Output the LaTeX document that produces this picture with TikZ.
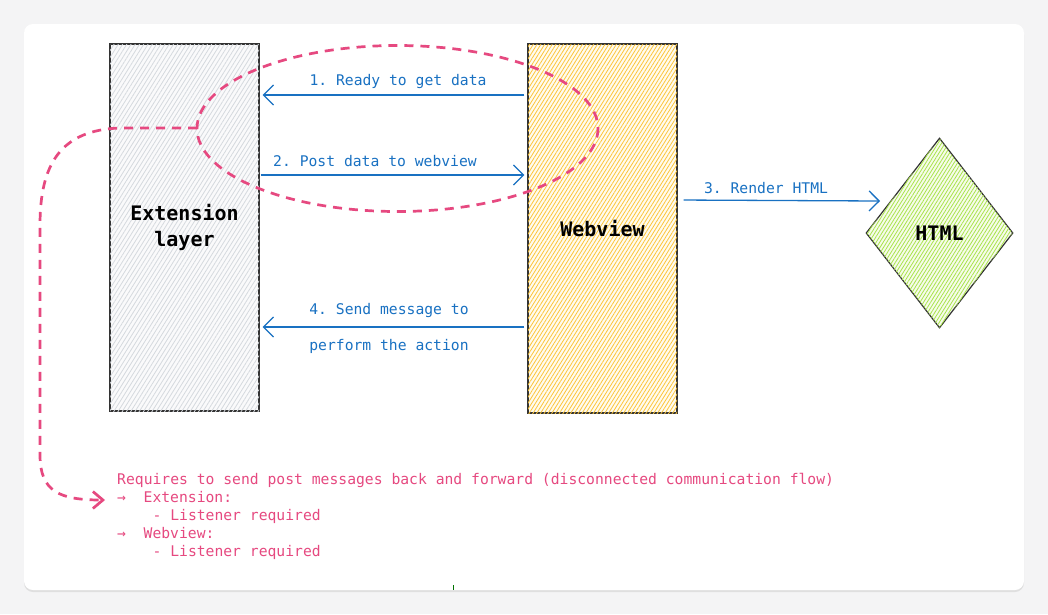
\documentclass[tikz,border=0pt]{standalone}
\usepackage{fontspec}
\setmonofont{DejaVu Sans Mono}
\usetikzlibrary{patterns.meta, arrows.meta, shapes.geometric, shadows}
\definecolor{bgc}{HTML}{F4F4F5}
\definecolor{exfill}{HTML}{FAFAFB}
\definecolor{exline}{HTML}{D5D9DE}
\definecolor{webline}{HTML}{FCC53A}
\definecolor{webfill}{HTML}{FFFBEF}
\definecolor{htmlline}{HTML}{A9E34B}
\definecolor{htmlfill}{HTML}{F6FCEA}
\definecolor{ablue}{HTML}{1971C2}
\definecolor{apink}{HTML}{E64980}
\tikzset{
  boxbase/.style={draw=black!80, line width=1.2pt, inner sep=0pt, font=\ttfamily\bfseries\fontsize{20}{26}\selectfont, align=center},
  extbox/.style={boxbase, fill=exfill, postaction={pattern={Lines[angle=58,distance=3.6pt,line width=0.8pt]}, pattern color=exline}},
  webbox/.style={boxbase, fill=webfill, postaction={pattern={Lines[angle=58,distance=3.2pt,line width=0.8pt]}, pattern color=webline}},
  htmlbox/.style={boxbase, diamond, fill=htmlfill, postaction={pattern={Lines[angle=58,distance=3pt,line width=0.8pt]}, pattern color=htmlline}},
  barrow/.style={draw=ablue, line width=1.3pt, -{Straight Barb[length=10pt,width=20pt,line width=1.3pt]}},
  blab/.style={text=ablue, font=\ttfamily\fontsize{14.7}{18}\selectfont, inner sep=0pt},
  reddash/.style={draw=apink, line width=2.7pt, dash pattern=on 9pt off 7pt},
  rtext/.style={text=apink, font=\ttfamily\fontsize{14.7}{18}\selectfont, align=left, inner sep=0pt},
}
\begin{document}
\begin{tikzpicture}[x=1pt, y=-1pt]
\useasboundingbox (0,0) rectangle (1048,614);
\fill[bgc] (0,0) rectangle (1048,614);
\path[fill=white, rounded corners=9pt, drop shadow={opacity=0.18, shadow xshift=0pt, shadow yshift=-2pt}] (24,24) rectangle (1024,590);

% main shapes
\node[extbox, minimum width=149pt, minimum height=367pt] (ext) at (184.5,227.5) {Extension\\layer};
\node[webbox, minimum width=149pt, minimum height=369pt] (web) at (602.5,228.5) {Webview};
\node[htmlbox, minimum width=147pt, minimum height=190pt] (html) at (939.5,233) {HTML};

% row coordinates
\coordinate (r1) at (0,95);
\coordinate (r2) at (0,175);
\coordinate (r3) at (0,200);
\coordinate (r4) at (0,327);
\coordinate (a3e) at (880,201);

% pink loop
\draw[reddash] (397.5,128.5) ellipse [x radius=200.5, y radius=83];
\coordinate (lj) at (197,128);
\coordinate (lend) at (105,500);
\draw[reddash, -{Straight Barb[length=10pt,width=17pt,line width=2.7pt]}] (lj) -- (120,128) .. controls (60,130) and (40,165) .. (40,225) -- (40,455) .. controls (40,492) and (60,500) .. (lend);

% blue arrows
\draw[barrow, shorten <=3pt, shorten >=3pt] (web.west |- r1) -- (ext.east |- r1);
\draw[barrow, shorten <=1pt, shorten >=3pt] (ext.east |- r2) -- (web.west |- r2);
\draw[barrow, shorten <=6pt] (web.east |- r3) -- (a3e);
\draw[barrow, shorten <=3pt, shorten >=3pt] (web.west |- r4) -- (ext.east |- r4);

\node[blab] (l1) at (398,81) {1. Ready to get data};
\node[blab] (l2) at (375,161) {2. Post data to webview};
\node[blab] (l3) at (766,188) {3. Render HTML};
\node[blab] (l4) at (389,310) {4. Send message to};
\node[blab] (l5) at (389,346) {perform the action};

% note text
\node[rtext, anchor=north west] (note) at (117,473) {Requires to send post messages back and forward (disconnected communication flow)\\
\makebox[26.5pt][l]{→}Extension:\\
\hspace*{35.4pt}- Listener required\\
\makebox[26.5pt][l]{→}Webview:\\
\hspace*{35.4pt}- Listener required};

% small mark at bottom edge
\draw[green!45!black, line width=1.6pt] (453.5,585) -- (453.5,590);
\end{tikzpicture}
\end{document}
